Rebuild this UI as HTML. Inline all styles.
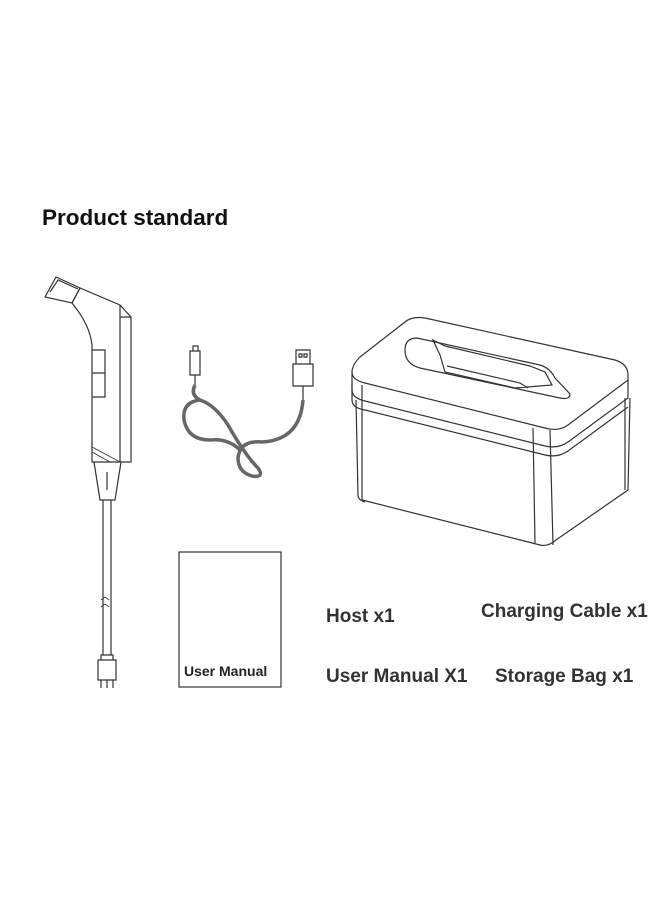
<!DOCTYPE html>
<html><head><meta charset="utf-8"><style>
body{margin:0;background:#fff;width:660px;height:900px;overflow:hidden;position:relative;font-family:"Liberation Sans",sans-serif}
.t{position:absolute;font-weight:bold;color:#333;font-size:19px;white-space:nowrap}
</style></head><body>
<div class="t" style="left:42px;top:205px;font-size:22.5px;color:#111">Product standard</div>
<div class="t" style="left:326px;top:606px">Host x1</div>
<div class="t" style="left:481px;top:601px">Charging Cable x1</div>
<div class="t" style="left:326px;top:666px">User Manual X1</div>
<div class="t" style="left:495px;top:666px">Storage Bag x1</div>
<div class="t" style="left:184px;top:663px;font-size:14px;color:#222">User Manual</div>
<svg width="660" height="900" style="position:absolute;left:0;top:0" fill="none" stroke="#333" stroke-width="1.2">
<!-- handheld -->
<path d="M45,297 L56,277 L80,288 L72,303 Z"/>
<path d="M50,292 L58,280 L78,289"/>
<path d="M72,303 L80,288 L120,305 L131,317 L131,462 L92,462 L92,345 Q90,325 72,303"/>
<path d="M120,305 L120,462 M131,317 L120,317"/>
<path d="M92,350 L105,350 L105,397 L92,397 M92,373 L105,373"/>
<path d="M92,447 L120,462 M92,452 L110,462" stroke-width="0.8"/>
<path d="M94,462 L100,500 L115,500 L121,462 M107,472 L107,490"/>
<path d="M103,500 L103,655 M111,500 L111,655"/>
<path d="M101,600 l4,-3 l4,3 M101,607 l4,-3 l4,3" stroke-width="0.8"/>
<path d="M101,655 L113,655 L113,660 L101,660 Z M98,660 L116,660 L116,680 L98,680 Z M101,680 L101,688 M107,680 L107,688 M113,680 L113,688"/>
<!-- cable -->
<path d="M193,351 l0,-5 l5,0 l0,5 M190,351 L200,351 L200,375 L190,375 Z M195,375 L195,385"/>
<path d="M296,350 L310,350 L310,364 L296,364 Z M293,364 L313,364 L313,386 L293,386 Z M303,386 L303,400 M299,354 h3 v3 h-3 z M304,354 h3 v3 h-3 z"/>
<g stroke="#666" stroke-width="3.5">
<path d="M195,385 Q190,395 200,400 Q215,405 228,425 Q245,455 258,468 Q265,478 252,476 Q238,472 238,458 Q240,440 262,442 Q300,440 303,400"/>
<path d="M200,400 Q182,402 184,420 Q188,440 210,440 Q228,438 240,450"/>
</g>
<!-- manual -->
<rect x="179" y="552" width="102" height="135"/>
<!-- box -->
<path d="M352,372 Q352,365 360,357 L405,322 Q412,316 425,318 L615,360 Q628,364 628,375 L628,380"/>
<path d="M352,372 Q352,380 365,383 L545,428 Q558,432 568,425 L628,380"/>
<path d="M352,372 L352,390 Q352,398 365,401 L545,446 Q558,449 568,442 L628,398 L628,380"/>
<path d="M352,383 L352,400 Q352,408 365,410 L545,455 Q558,458 568,451 L628,407"/>
<path d="M362,385 L362,500 L540,545 Q548,547 556,540 L628,490 L630,398 M550,430 L553,545 M533,428 L535,543 M356,400 L358,495 Q358,500 365,502 M625,398 L625,490"/>
<path d="M405,350 Q405,338 417,338 L540,365 Q550,368 555,378 L570,394 Q570,400 560,398 L420,368 Q405,364 405,350"/>
<path d="M433,340 L445,346 L530,366 L545,372 L552,385 L515,388 L445,372 L440,355 Z M447,366 L520,383 L528,388"/>
</svg>
</body></html>
